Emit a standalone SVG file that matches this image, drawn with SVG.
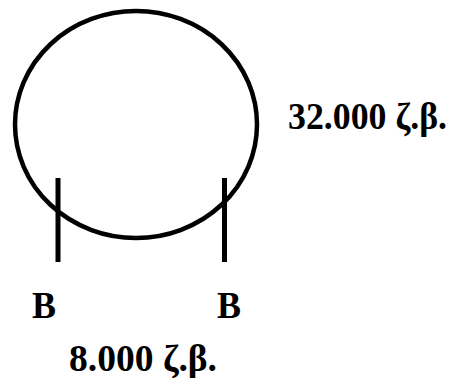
<svg xmlns="http://www.w3.org/2000/svg" width="454" height="378" viewBox="0 0 454 378">
<style>
.s{fill:none;stroke:#000;stroke-width:4.5}
.l{stroke:#000;stroke-width:5}
.t{font-family:"Liberation Serif","Times New Roman",serif;font-weight:bold;font-size:38px;fill:#000}
</style>
<rect width="454" height="378" fill="#fff"/>
<g id="tank">
<ellipse class="s" cx="136" cy="124.5" rx="121" ry="113.5"/>
</g>
<g id="connectors">
<line class="l" x1="58" y1="178" x2="58" y2="262"/>
<line class="l" x1="224.5" y1="178" x2="224.5" y2="262"/>
</g>
<g id="labels">
<text class="t" x="288" y="129" textLength="159" lengthAdjust="spacingAndGlyphs">32.000 ζ.β.</text>
<text class="t" x="32" y="318" textLength="24" lengthAdjust="spacingAndGlyphs">B</text>
<text class="t" x="217" y="318" textLength="24" lengthAdjust="spacingAndGlyphs">B</text>
<text class="t" x="69" y="371" textLength="148" lengthAdjust="spacingAndGlyphs">8.000 ζ.β.</text>
</g>
</svg>
